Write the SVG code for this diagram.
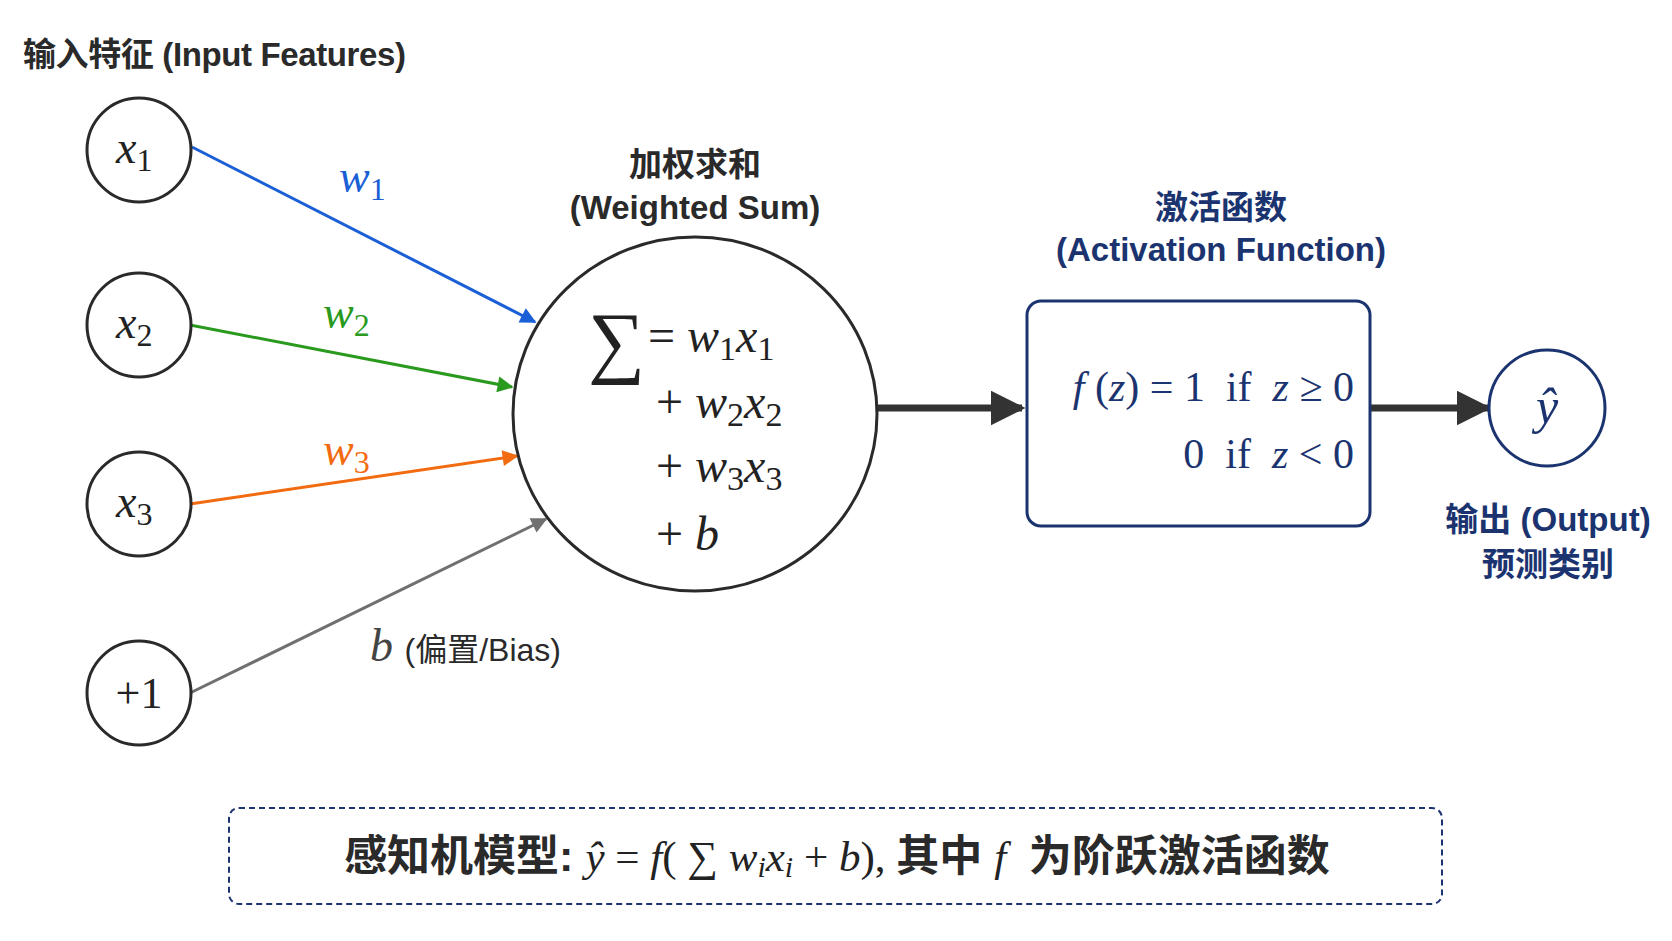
<svg xmlns="http://www.w3.org/2000/svg" width="1672" height="941" viewBox="0 0 1672 941">
<style>
.lb{font-family:"Liberation Sans","Noto Sans CJK SC",sans-serif;fill:#2a2a2a}
.nv{fill:#1b3470}
.m{font-family:"Liberation Serif","Noto Sans CJK SC",serif;font-style:italic}
.r{font-family:"Liberation Serif",serif;font-style:normal}
.node{fill:#fff;stroke:#2a2a2a;stroke-width:3}
</style>
<defs>
<marker id="ab" viewBox="0 0 10 10" refX="9" refY="5" markerWidth="20" markerHeight="16" orient="auto" markerUnits="userSpaceOnUse"><path d="M0,0L10,5L0,10z" fill="#1a5fd6"/></marker>
<marker id="ag" viewBox="0 0 10 10" refX="9" refY="5" markerWidth="20" markerHeight="16" orient="auto" markerUnits="userSpaceOnUse"><path d="M0,0L10,5L0,10z" fill="#2a9a1e"/></marker>
<marker id="ao" viewBox="0 0 10 10" refX="9" refY="5" markerWidth="20" markerHeight="16" orient="auto" markerUnits="userSpaceOnUse"><path d="M0,0L10,5L0,10z" fill="#f26b10"/></marker>
<marker id="ay" viewBox="0 0 10 10" refX="9" refY="5" markerWidth="20" markerHeight="16" orient="auto" markerUnits="userSpaceOnUse"><path d="M0,0L10,5L0,10z" fill="#707070"/></marker>
<marker id="ak" viewBox="0 0 10 10" refX="9" refY="5" markerWidth="5" markerHeight="5" orient="auto"><path d="M0,0L10,5L0,10z" fill="#333"/></marker>
</defs>
<rect width="1672" height="941" fill="#fff"/>
<text class="lb" x="23" y="66" font-size="33" font-weight="bold" textLength="383">输入特征 (Input Features)</text>
<g id="connectors" fill="none">
<line x1="192" y1="147" x2="535" y2="322" stroke="#1a5fd6" stroke-width="3" marker-end="url(#ab)"/>
<line x1="190" y1="325" x2="512" y2="387" stroke="#2a9a1e" stroke-width="3" marker-end="url(#ag)"/>
<line x1="190" y1="504" x2="517" y2="456" stroke="#f26b10" stroke-width="3" marker-end="url(#ao)"/>
<line x1="190" y1="693" x2="546" y2="519" stroke="#707070" stroke-width="3" marker-end="url(#ay)"/>
<line x1="876" y1="408" x2="1022" y2="408" stroke="#333" stroke-width="7" marker-end="url(#ak)"/>
<line x1="1370" y1="408" x2="1488" y2="408" stroke="#333" stroke-width="7" marker-end="url(#ak)"/>
<text class="m" x="339" y="192" font-size="46" fill="#1a5fd6">w<tspan class="r" font-size="32" dy="8">1</tspan></text>
<text class="m" x="323" y="328" font-size="46" fill="#2a9a1e">w<tspan class="r" font-size="32" dy="8">2</tspan></text>
<text class="m" x="323" y="465" font-size="46" fill="#f26b10">w<tspan class="r" font-size="32" dy="8">3</tspan></text>
<text x="370" y="661" font-size="46" class="m" fill="#444">b <tspan class="lb" font-style="normal" font-size="32" fill="#444">(偏置/Bias)</tspan></text>
</g>
<g id="x1"><circle class="node" cx="139" cy="150" r="52"/><text class="m" x="116" y="163" font-size="46" fill="#222">x<tspan class="r" font-size="32" dy="8">1</tspan></text></g>
<g id="x2"><circle class="node" cx="139" cy="325" r="52"/><text class="m" x="116" y="338" font-size="46" fill="#222">x<tspan class="r" font-size="32" dy="8">2</tspan></text></g>
<g id="x3"><circle class="node" cx="139" cy="504" r="52"/><text class="m" x="116" y="517" font-size="46" fill="#222">x<tspan class="r" font-size="32" dy="8">3</tspan></text></g>
<g id="bias"><circle class="node" cx="139" cy="693" r="52"/><text class="r" x="139" y="708" font-size="44" text-anchor="middle" fill="#222">+1</text></g>
<g id="sum">
<text class="lb" x="695" y="176" font-size="33" font-weight="bold" text-anchor="middle">加权求和</text>
<text class="lb" x="695" y="219" font-size="33" font-weight="bold" text-anchor="middle">(Weighted Sum)</text>
<ellipse class="node" cx="695" cy="414" rx="182" ry="177"/>
<text class="r" x="588" y="368" font-size="80" fill="#222">∑</text>
<text class="m" x="648" y="352" font-size="48" fill="#222"><tspan class="r">=</tspan> w<tspan class="r" font-size="34" dy="8">1</tspan><tspan dy="-8">x</tspan><tspan class="r" font-size="34" dy="8">1</tspan></text>
<text class="m" x="656" y="418" font-size="48" fill="#222"><tspan class="r">+</tspan> w<tspan class="r" font-size="34" dy="8">2</tspan><tspan dy="-8">x</tspan><tspan class="r" font-size="34" dy="8">2</tspan></text>
<text class="m" x="656" y="482" font-size="48" fill="#222"><tspan class="r">+</tspan> w<tspan class="r" font-size="34" dy="8">3</tspan><tspan dy="-8">x</tspan><tspan class="r" font-size="34" dy="8">3</tspan></text>
<text class="m" x="656" y="550" font-size="48" fill="#222"><tspan class="r">+</tspan> b</text>
</g>
<g id="activation">
<text class="lb nv" x="1221" y="219" font-size="33" font-weight="bold" text-anchor="middle">激活函数</text>
<text class="lb nv" x="1221" y="261" font-size="33" font-weight="bold" text-anchor="middle">(Activation Function)</text>
<rect x="1027" y="301" width="343" height="225" rx="14" fill="#fff" stroke="#1b3470" stroke-width="3"/>
<text class="r nv" x="1354" y="401" font-size="42" text-anchor="end" xml:space="preserve"><tspan class="m">f</tspan> (<tspan class="m">z</tspan>) = 1  if  <tspan class="m">z</tspan> ≥ 0</text>
<text class="r nv" x="1354" y="468" font-size="42" text-anchor="end" xml:space="preserve">0  if  <tspan class="m">z</tspan> &lt; 0</text>
</g>
<g id="output">
<circle cx="1547" cy="408" r="58" fill="#fff" stroke="#1b3470" stroke-width="3"/>
<text class="m nv" x="1547" y="423" font-size="50" text-anchor="middle">ŷ</text>
<text class="lb nv" x="1548" y="531" font-size="33" font-weight="bold" text-anchor="middle">输出 (Output)</text>
<text class="lb nv" x="1548" y="576" font-size="33" font-weight="bold" text-anchor="middle">预测类别</text>
</g>
<g id="formula">
<rect x="229" y="808" width="1213" height="96" rx="10" fill="#fff" stroke="#1b3470" stroke-width="2" stroke-dasharray="6,4"/>
<text x="837" y="871" font-size="43" text-anchor="middle" fill="#222" xml:space="preserve"><tspan class="lb" font-weight="bold">感知机模型: </tspan><tspan class="m">ŷ </tspan><tspan class="r">= </tspan><tspan class="m">f</tspan><tspan class="r">( ∑ </tspan><tspan class="m">w<tspan font-size="30" dy="6">i</tspan><tspan dy="-6">x</tspan><tspan font-size="30" dy="6">i</tspan></tspan><tspan class="r" dy="-6"> + </tspan><tspan class="m">b</tspan><tspan class="r">), </tspan><tspan class="lb" font-weight="bold">其中 </tspan><tspan class="m">f </tspan><tspan class="lb" font-weight="bold"> 为阶跃激活函数</tspan></text>
</g>
</svg>
